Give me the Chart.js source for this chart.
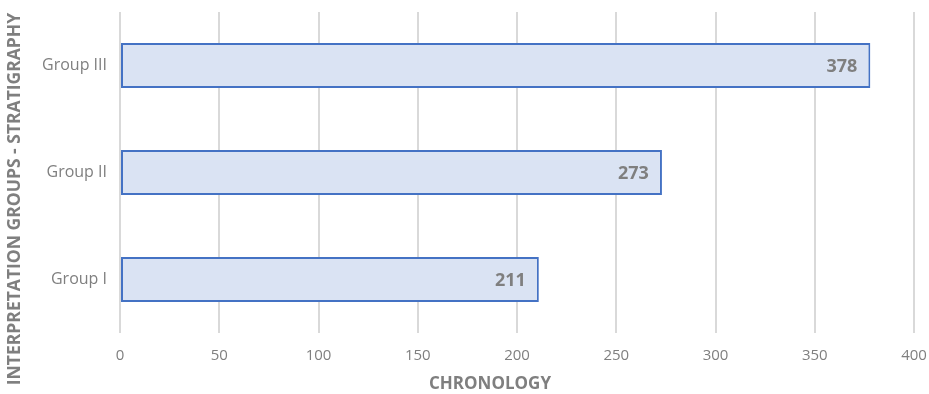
<!DOCTYPE html>
<html>
<head>
<meta charset="utf-8">
<script src="https://cdn.jsdelivr.net/npm/chart.js@4.4.0/dist/chart.umd.min.js"></script>
<style>
  html, body { margin: 0; padding: 0; background: #fff; }
  #wrap { width: 929px; height: 394px; }
</style>
</head>
<body>
<div id="wrap"><canvas id="myChart"></canvas></div>
<script>
const groups = ['Group III', 'Group II', 'Group I'];
const chronology = [378, 273, 211];
const xTicks = [0, 50, 100, 150, 200, 250, 300, 350, 400];
const xTitle = 'CHRONOLOGY';
const yTitle = 'INTERPRETATION GROUPS - STRATIGRAPHY';

const greyText = '#7f7f7f';
const fontName = "'Open Sans', sans-serif";

// value printed inside the end of each bar
const barValues = {
    id: 'barValues',
    afterDatasetsDraw(chart) {
        const ctx = chart.ctx;
        const meta = chart.getDatasetMeta(0);
        ctx.save();
        ctx.font = 'bold 18px ' + fontName;
        ctx.fillStyle = greyText;
        ctx.textAlign = 'right';
        ctx.textBaseline = 'middle';
        meta.data.forEach((bar, i) => {
            ctx.fillText(chronology[i], bar.x - 13, bar.y + 1);
        });
        ctx.restore();
    }
};

// axis titles
const axisTitles = {
    id: 'axisTitles',
    afterDraw(chart) {
        const ctx = chart.ctx;
        ctx.save();
        ctx.fillStyle = greyText;
        ctx.font = 'bold 17px ' + fontName;
        ctx.textAlign = 'center';
        ctx.textBaseline = 'middle';
        ctx.fillText(xTitle, 490, 384);
        ctx.translate(15, 199);
        ctx.rotate(-Math.PI / 2);
        ctx.font = 'bold 17.5px ' + fontName;
        ctx.fillText(yTitle, 0, 0);
        ctx.restore();
    }
};

const ctx = document.getElementById('myChart').getContext('2d');
new Chart(ctx, {
    type: 'bar',
    data: {
        labels: groups,
        datasets: [
            {
                label: xTitle,
                data: chronology,
                backgroundColor: '#dae3f3',
                borderColor: '#4472c4',
                borderWidth: 2,
                borderSkipped: false,
                categoryPercentage: 1,
                barPercentage: 0.42
            }
        ]
    },
    options: {
        indexAxis: 'y',
        responsive: true,
        maintainAspectRatio: false,
        animation: false,
        layout: {
            padding: { top: 12, right: 15, left: 0, bottom: 0 }
        },
        plugins: {
            legend: { display: false },
            tooltip: { enabled: false }
        },
        scales: {
            x: {
                min: 0,
                max: 400,
                afterBuildTicks: (scale) => {
                    scale.ticks = xTicks.map(v => ({ value: v }));
                },
                afterFit: (scale) => {
                    scale.height = 61;
                    scale.paddingLeft = 0;
                    scale.paddingRight = 0;
                },
                border: { display: false },
                grid: {
                    color: '#d9d9d9',
                    lineWidth: 2,
                    drawTicks: false
                },
                ticks: {
                    color: greyText,
                    font: { family: fontName, size: 15 },
                    padding: 14
                }
            },
            y: {
                afterFit: (scale) => {
                    scale.width = 120;
                    scale.paddingTop = 0;
                    scale.paddingBottom = 0;
                },
                border: { display: false },
                grid: { display: false, drawTicks: false },
                ticks: {
                    color: greyText,
                    font: { family: fontName, size: 16 },
                    padding: 13
                }
            }
        }
    },
    plugins: [barValues, axisTitles]
});
</script>
</body>
</html>
